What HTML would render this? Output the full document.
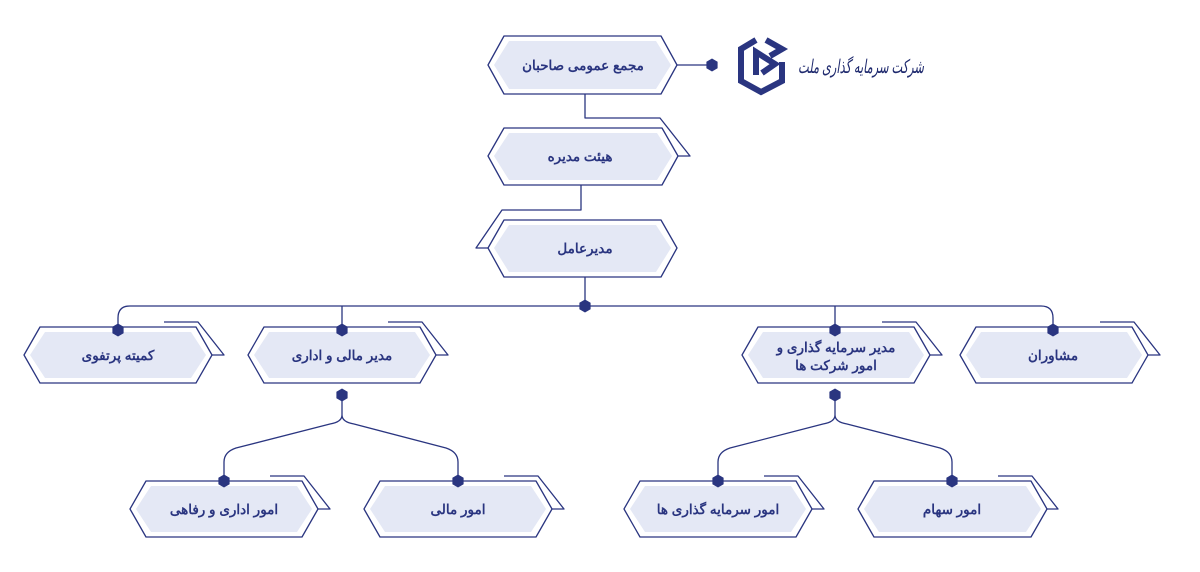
<!DOCTYPE html>
<html><head><meta charset="utf-8"><style>
html,body{margin:0;padding:0;background:#fff;width:1200px;height:572px;overflow:hidden}
text{font-family:"Liberation Sans","Noto Sans CJK SC",sans-serif;font-weight:bold;font-size:13.5px;fill:#2a3580}
</style></head><body>
<svg width="1200" height="572" viewBox="0 0 1200 572" xmlns="http://www.w3.org/2000/svg">
<defs><symbol id="d" viewBox="-7 -7 14 14"><polygon points="0,-6.5 5.6,-3.2 5.6,3.2 0,6.5 -5.6,3.2 -5.6,-3.2" fill="#2a3580"/></symbol></defs>
<g fill="none" stroke="#2a3580" stroke-width="1.3" stroke-linejoin="round">
<path d="M677,65 H712"/>
<path d="M585,94 V118 H660 L690,156 H678"/>
<path d="M581,185 V210 H502 L476,248 H488"/>
<path d="M585,277 V306"/>
<path d="M118,330 V318 Q118,306 130,306 H1041 Q1053,306 1053,318 V330"/>
<path d="M342,306 V330 M835,306 V330"/>
<path d="M342,395 V415 Q342,422 330,424 L236,448 Q224,452 224,462 V481 M342,415 Q342,422 354,424 L446,448 Q458,452 458,462 V481"/>
<path d="M835,395 V415 Q835,422 823,424 L730,448 Q718,452 718,462 V481 M835,415 Q835,422 847,424 L940,448 Q952,452 952,462 V481"/>
<path d="M164,322 H198 L224,355 H212 M388,322 H422 L448,355 H436 M882,322 H916 L942,355 H930 M1100,322 H1134 L1160,355 H1148"/>
<path d="M270,476 H304 L330,509 H318 M504,476 H538 L564,509 H552 M764,476 H798 L824,509 H812 M998,476 H1032 L1058,509 H1047"/>
</g>
<g stroke="#2a3580" stroke-width="1.3" stroke-linejoin="round" fill="#fff">
<polygon points="504,36 661,36 677,65 661,94 504,94 488,65"/>
<polygon points="504,128 662,128 678,156 662,185 504,185 488,156"/>
<polygon points="504,220 661,220 677,248 661,277 504,277 488,248"/>
<polygon points="40,327 196,327 212,355 196,383 40,383 24,355"/>
<polygon points="264,327 420,327 436,355 420,383 264,383 248,355"/>
<polygon points="758,327 914,327 930,355 914,383 758,383 742,355"/>
<polygon points="976,327 1132,327 1148,355 1132,383 976,383 960,355"/>
<polygon points="146,481 302,481 318,509 302,537 146,537 130,509"/>
<polygon points="380,481 536,481 552,509 536,537 380,537 364,509"/>
<polygon points="640,481 796,481 812,509 796,537 640,537 624,509"/>
<polygon points="874,481 1031,481 1047,509 1031,537 874,537 858,509"/>
</g>
<g fill="#e4e8f5" stroke="none">
<polygon points="509,41 656,41 671,65 656,89 509,89 494,65"/>
<polygon points="509,133 657,133 672,156 657,180 509,180 494,156"/>
<polygon points="509,225 656,225 671,248 656,272 509,272 494,248"/>
<polygon points="45,332 191,332 206,355 191,378 45,378 30,355"/>
<polygon points="269,332 415,332 430,355 415,378 269,378 254,355"/>
<polygon points="763,332 909,332 924,355 909,378 763,378 748,355"/>
<polygon points="981,332 1127,332 1142,355 1127,378 981,378 966,355"/>
<polygon points="151,486 297,486 312,509 297,532 151,532 136,509"/>
<polygon points="385,486 531,486 546,509 531,532 385,532 370,509"/>
<polygon points="645,486 791,486 806,509 791,532 645,532 630,509"/>
<polygon points="879,486 1026,486 1041,509 1026,532 879,532 864,509"/>
</g>
<g>
<use href="#d" x="705" y="58" width="14" height="14"/>
<use href="#d" x="578" y="299" width="14" height="14"/>
<use href="#d" x="111" y="323" width="14" height="14"/>
<use href="#d" x="335" y="323" width="14" height="14"/>
<use href="#d" x="828" y="323" width="14" height="14"/>
<use href="#d" x="1046" y="323" width="14" height="14"/>
<use href="#d" x="335" y="388" width="14" height="14"/>
<use href="#d" x="828" y="388" width="14" height="14"/>
<use href="#d" x="217" y="474" width="14" height="14"/>
<use href="#d" x="451" y="474" width="14" height="14"/>
<use href="#d" x="711" y="474" width="14" height="14"/>
<use href="#d" x="945" y="474" width="14" height="14"/>
</g>
<g text-anchor="middle" direction="rtl">
<text x="583" y="70">مجمع عمومی صاحبان</text>
<text x="580" y="161">هیئت مدیره</text>
<text x="585" y="253">مدیرعامل</text>
<text x="118" y="360">کمیته پرتفوی</text>
<text x="342" y="360">مدیر مالی و اداری</text>
<text x="836" y="352">مدیر سرمایه گذاری و</text>
<text x="836" y="370">امور شرکت ها</text>
<text x="1053" y="360">مشاوران</text>
<text x="224" y="514">امور اداری و رفاهی</text>
<text x="458" y="514">امور مالی</text>
<text x="718" y="514">امور سرمایه گذاری ها</text>
<text x="952" y="514">امور سهام</text>
</g>
<g fill="none" stroke="#2a3580" stroke-width="6" stroke-linejoin="miter">
<path d="M756,40 L741,49 L741,81 L761,92 L782,81 L782,62"/>
<path d="M766,40 L782,49 L770,56"/>
<path d="M756,75 L756,52 L775,64 L762,73"/>
</g>
<text x="861" y="73" text-anchor="middle" direction="rtl" textLength="126" lengthAdjust="spacingAndGlyphs" style="font-family:'Liberation Serif','Noto Serif CJK SC',serif;font-style:italic;font-size:19px;font-weight:normal;fill:#1f2a6e">شرکت سرمایه گذاری ملت</text>
</svg>
</body></html>
